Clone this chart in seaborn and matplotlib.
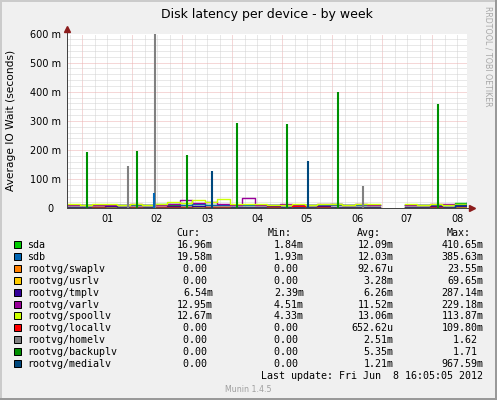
import numpy as np
import pandas as pd
import seaborn as sns
import matplotlib.pyplot as plt
from matplotlib.patches import Rectangle

nan = np.nan

# devices in munin drawing order, with the munin 1.4 palette
devices = ['sda', 'sdb', 'rootvg/swaplv', 'rootvg/usrlv', 'rootvg/tmplv', 'rootvg/varlv',
           'rootvg/spoollv', 'rootvg/locallv', 'rootvg/homelv', 'rootvg/backuplv', 'rootvg/medialv']
colors = ['#00CC00', '#0066B3', '#FF8000', '#FFCC00', '#330099', '#990099',
          '#CCFF00', '#FF0000', '#808080', '#008F00', '#00487D']

# six-hourly readings (ms), day 0 = midnight of the 1st; nan = no data on the 6th/7th
days = np.arange(-0.3, 7.71, 0.25)
sda = [10, 12, 11, 13, 12, 11, 12, 14, 13, 12, 15, 13, 12, 11, 12, 13, 12, 11, 12, 13, 12, 14, 12, 11, 12, 12, nan, 11, 12, 13, 12, 17, 17]
sdb = [11, 12, 12, 13, 11, 12, 13, 12, 14, 12, 14, 13, 12, 12, 11, 12, 13, 12, 12, 12, 13, 12, 11, 12, 12, 12, nan, 12, 11, 12, 13, 14, 20]
swaplv = [0, 0, 0, 1, 0, 0, 0, 0, 2, 0, 0, 1, 0, 0, 0, 0, 0, 0, 1, 0, 0, 0, 0, 0, 0, 0, nan, 0, 0, 0, 0, 0, 0]
usrlv = [3, 2, 4, 3, 3, 2, 3, 4, 3, 3, 4, 3, 3, 2, 3, 3, 4, 3, 3, 3, 4, 3, 3, 3, 3, 3, nan, 3, 3, 4, 3, 3, 3]
tmplv = [6, 5, 6, 7, 6, 6, 5, 6, 7, 6, 7, 6, 6, 5, 6, 6, 7, 6, 6, 6, 7, 6, 6, 6, 6, 6, nan, 6, 6, 7, 6, 7, 7]
varlv = [11, 10, 12, 11, 13, 14, 11, 12, 16, 28, 18, 20, 15, 12, 35, 13, 12, 14, 12, 13, 16, 15, 12, 14, 13, 13, nan, 11, 12, 14, 15, 13, 13]
spoollv = [14, 12, 14, 15, 12, 14, 13, 16, 22, 18, 28, 20, 33, 16, 14, 15, 13, 12, 14, 13, 15, 14, 13, 16, 14, 14, nan, 15, 13, 14, 12, 14, 14]
locallv = [2, 1, 5, 2, 1, 3, 2, 4, 3, 6, 2, 3, 4, 2, 1, 2, 3, 2, 8, 2, 3, 2, 2, 1, 2, 2, nan, 1, 2, 3, 2, 1, 1]
homelv = [0, 0, 0, 0, 0, 0, 0, 0, 0, 0, 0, 0, 0, 0, 0, 0, 0, 0, 0, 0, 0, 0, 0, 0, 0, 0, nan, 0, 0, 0, 0, 0, 0]
backuplv = [0, 0, 0, 0, 0, 0, 0, 0, 0, 0, 0, 0, 0, 0, 0, 0, 0, 0, 0, 0, 0, 0, 0, 0, 0, 0, nan, 0, 0, 0, 0, 0, 0]
medialv = [1, 1, 0, 1, 1, 0, 1, 1, 1, 0, 1, 1, 0, 1, 1, 1, 0, 1, 1, 1, 0, 1, 1, 1, 1, 1, nan, 1, 0, 1, 1, 12, 15]
values = [sda, sdb, swaplv, usrlv, tmplv, varlv, spoollv, locallv, homelv, backuplv, medialv]

# short spikes (ms)
spike_dev = ['rootvg/backuplv'] * 7 + ['rootvg/homelv'] * 3 + ['rootvg/medialv'] * 2 + ['sdb']
spike_day = [0.094, 1.094, 2.1, 3.094, 4.094, 5.114, 7.114, 0.914, 1.46, 5.614, 2.6, 4.514, 1.434]
spike_ms = [193, 197, 183, 292, 290, 398, 359, 145, 620, 77, 128, 162, 53]

day_labels = ['01', '02', '03', '04', '05', '06', '07', '08']
ytick_vals = [0, 100, 200, 300, 400, 500, 600]
ytick_labels = ['0', '100 m', '200 m', '300 m', '400 m', '500 m', '600 m']

cur = ['16.96m', '19.58m', '0.00 ', '0.00 ', '6.54m', '12.95m', '12.67m', '0.00 ', '0.00 ', '0.00 ', '0.00 ']
mins = ['1.84m', '1.93m', '0.00 ', '0.00 ', '2.39m', '4.51m', '4.33m', '0.00 ', '0.00 ', '0.00 ', '0.00 ']
avg = ['12.09m', '12.03m', '92.67u', '3.28m', '6.26m', '11.52m', '13.06m', '652.62u', '2.51m', '5.35m', '1.21m']
maxs = ['410.65m', '385.63m', '23.55m', '69.65m', '287.14m', '229.18m', '113.87m', '109.80m', '1.62 ', '1.71 ', '967.59m']

rows = []
for dev, vals in zip(devices, values):
    for d, v in zip(days, vals):
        rows.append((dev, d, v, 0 if d < 6.2 else 1))
df = pd.DataFrame(rows, columns=['device', 'day', 'wait', 'seg'])
palette = dict(zip(devices, colors))

W, H = 497, 400
def fx(x):
    return x / W
def fy(y):
    return 1 - y / H

fig = plt.figure(figsize=(4.97, 4.0), dpi=100, facecolor='#F0F0F0')
ax = fig.add_axes([fx(66.7), fy(208.3), 400.3 / W, 174.8 / H])
ax.set_facecolor('white')

sns.lineplot(data=df, x='day', y='wait', hue='device', hue_order=devices, units='seg',
             estimator=None, palette=palette, drawstyle='steps-post', lw=1.0,
             legend=False, ax=ax)
ax.vlines(spike_day, 0, spike_ms, colors=[palette[s] for s in spike_dev], lw=1.5, zorder=3)

ax.set_xlim(-0.306, 7.7)
ax.set_ylim(0, 600)
ax.set_xlabel('')
ax.set_ylabel('')
for s in ax.spines.values():
    s.set_visible(False)

# grid: red at midnight / every 100m, grey every 6h / 20m
ax.set_yticks(ytick_vals)
ax.set_yticks(range(0, 601, 20), minor=True)
ax.set_xticks(range(0, 8), [''] * 8)
minor_x = [d for d in np.arange(-0.25, 7.6, 0.25) if d % 1 != 0]
ax.set_xticks(minor_x, [day_labels[int(d)] if d % 1 == 0.5 else '' for d in minor_x], minor=True)
ax.tick_params(which='both', length=0, labelleft=False)
ax.tick_params(axis='x', which='minor', labelsize=7, pad=4)
ax.grid(which='major', color='#EDB0B0', lw=0.72, ls=(0, (1, 1)))
ax.grid(which='minor', color='#D2D2D2', lw=0.72, ls=(0, (1, 1)))
ax.set_axisbelow(True)

for v, lab in zip(ytick_vals, ytick_labels):
    off = 13.4 if v == 0 else 5.8
    ax.text(-off / 400.3, v, lab, transform=ax.get_yaxis_transform(), ha='right',
            va='center_baseline', fontsize=7)

# axes with arrows
axis_col = '#444444'
arrow_col = '#8C1C1C'
ax.plot([0, 0], [0, 1 + 6 / 174.8], transform=ax.transAxes, clip_on=False, color=axis_col, lw=0.72)
ax.plot([0, 1 + 4 / 400.3], [0, 0], transform=ax.transAxes, clip_on=False, color=axis_col, lw=0.72)
ax.plot([0], [1 + 4.5 / 174.8], transform=ax.transAxes, clip_on=False, marker='^', ms=4, color=arrow_col)
ax.plot([1 + 4.6 / 400.3], [0], transform=ax.transAxes, clip_on=False, marker='>', ms=4, color=arrow_col)

fig.text(fx(266.9), fy(18.3), 'Disk latency per device - by week', ha='center', va='baseline', fontsize=9)
fig.text(fx(11), fy(120.5), 'Average IO Wait (seconds)', rotation=90, ha='center', va='center', fontsize=7.7)
fig.text(fx(487.8), fy(6), 'RRDTOOL / TOBI OETIKER', rotation=270, ha='center', va='top',
         fontsize=5.65, color='#A8A8A8')

# legend table
mono = 'DejaVu Sans Mono'
fs = 7.2
cw = 0.602 * fs * 100 / 72
for head, x in zip(['Cur:', 'Min:', 'Avg:', 'Max:'], [176.2, 267.2, 356.5, 446.5]):
    fig.text(fx(x), fy(236), head, family=mono, fontsize=fs, va='baseline')
edges = [213, 304, 393.5, 483.5]
for i, dev in enumerate(devices):
    base = 248 + 11.9 * i
    fig.add_artist(Rectangle((fx(13.5), fy(base)), 7 / W, 7 / H, facecolor=colors[i],
                             edgecolor='black', lw=0.72, transform=fig.transFigure))
    fig.text(fx(27), fy(base), dev, family=mono, fontsize=fs, va='baseline')
    for col, edge in zip([cur, mins, avg, maxs], edges):
        s = col[i]
        fig.text(fx(edge - len(s) * cw), fy(base), s, family=mono, fontsize=fs, va='baseline')

last = 'Last update: Fri Jun  8 16:05:05 2012'
fig.text(fx(483.5 - len(last) * cw), fy(379), last, family=mono, fontsize=fs, va='baseline')
fig.text(fx(248.5), fy(392), 'Munin 1.4.5', ha='center', va='baseline', fontsize=5.7, color='#A0A0A0')

# 3d frame
fig.add_artist(Rectangle((0, 0), 2 / W, 1, transform=fig.transFigure, facecolor='#CBCBCB', lw=0))
fig.add_artist(Rectangle((0, 1 - 2 / H), 1, 2 / H, transform=fig.transFigure, facecolor='#CBCBCB', lw=0))
fig.add_artist(Rectangle((1 - 2 / W, 0), 2 / W, 1, transform=fig.transFigure, facecolor='#999999', lw=0))
fig.add_artist(Rectangle((0, 0), 1, 2 / H, transform=fig.transFigure, facecolor='#999999', lw=0))

fig.savefig('out.png', dpi=100, facecolor=fig.get_facecolor())
